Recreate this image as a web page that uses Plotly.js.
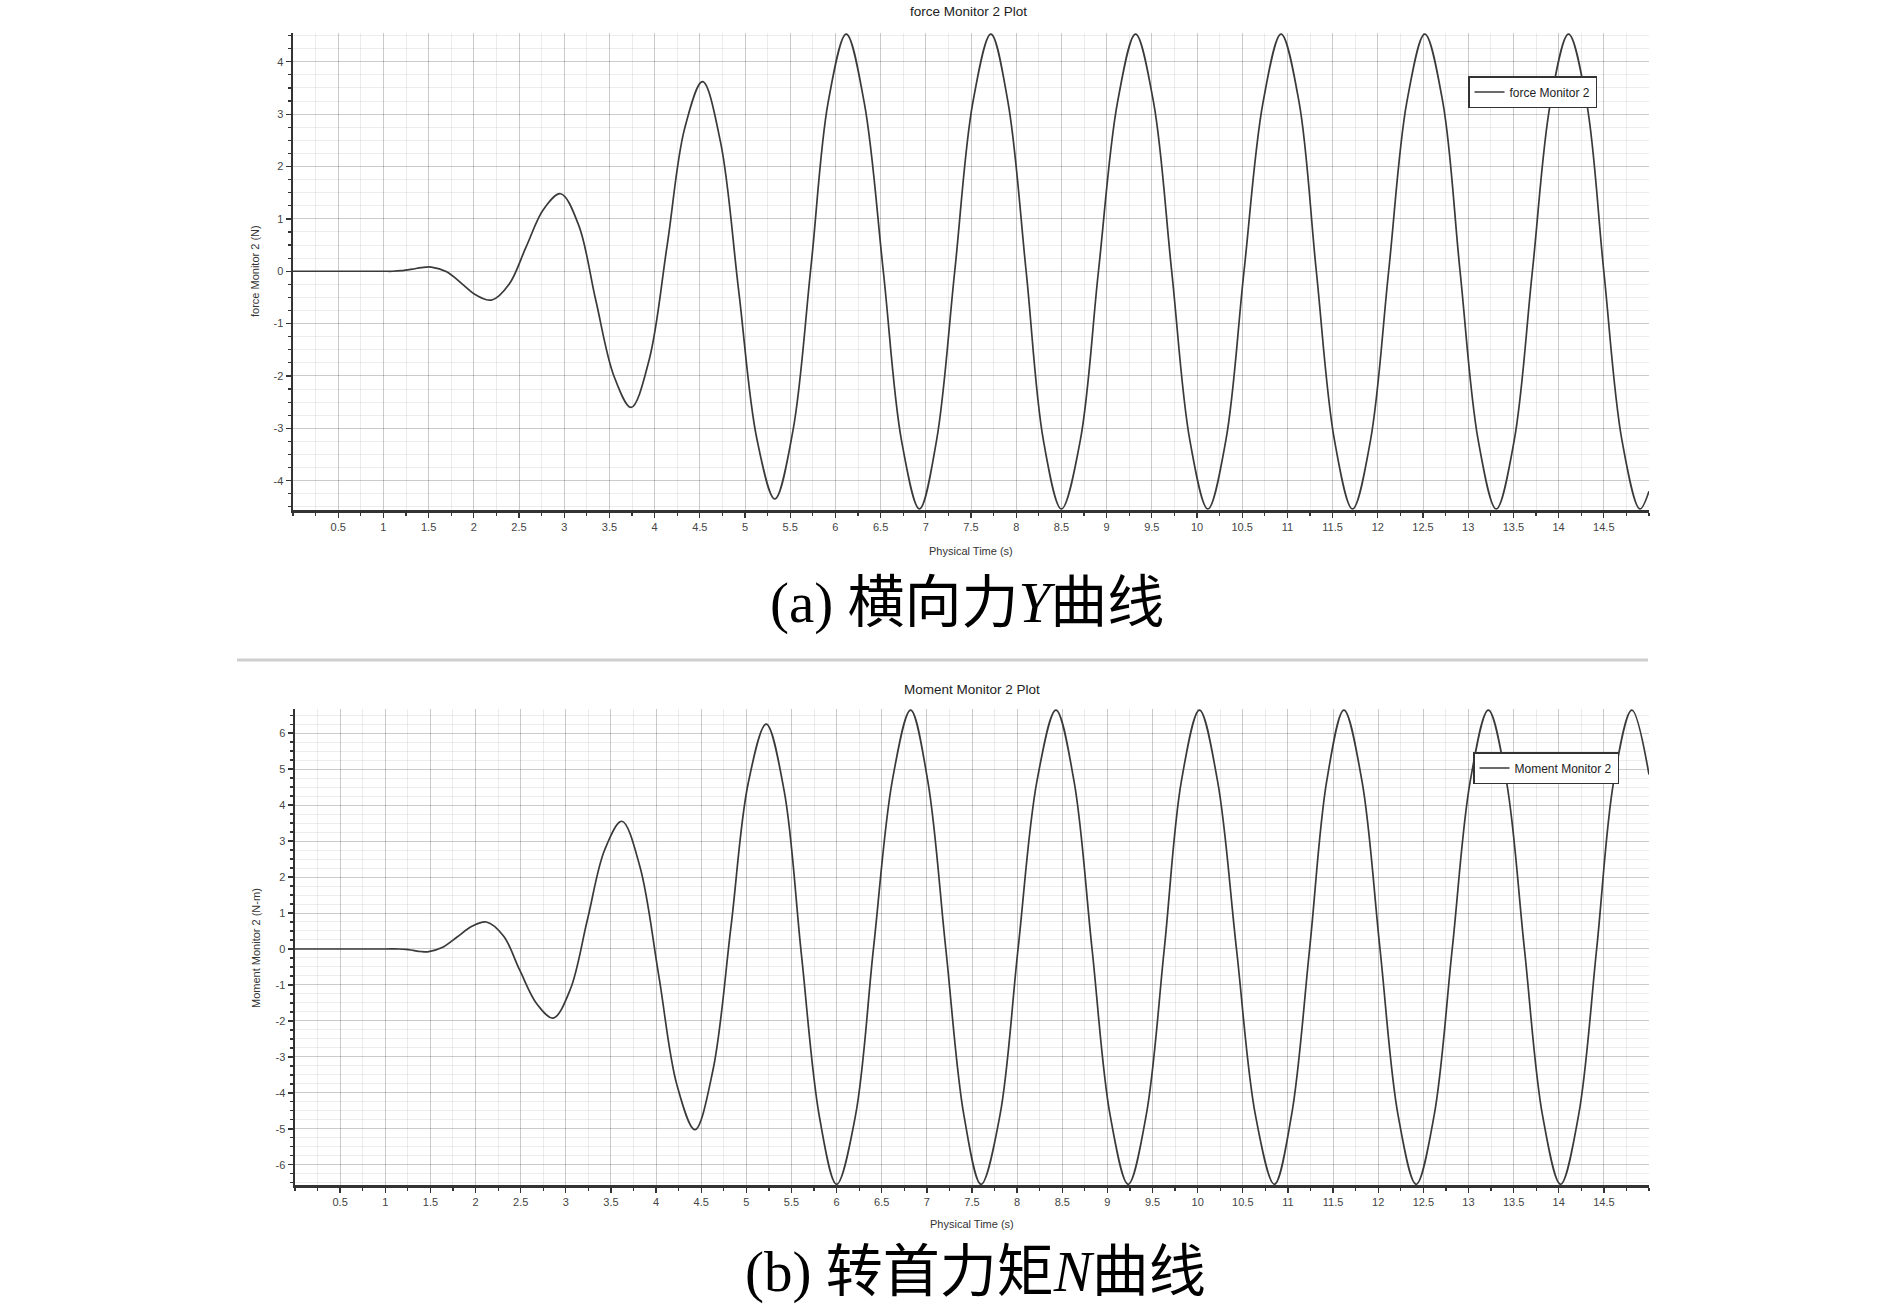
<!DOCTYPE html>
<html>
<head>
<meta charset="utf-8">
<script src="https://cdn.plot.ly/plotly-3.0.1.min.js"></script>
<style>
  html, body { margin: 0; padding: 0; background: #ffffff; }
  #chart { width: 1890px; height: 1304px; }
</style>
</head>
<body>
<div id="chart"></div>
<script>
// ---------------- data ----------------
const FORCE_NAME = 'force Monitor 2';
const MOMENT_NAME = 'Moment Monitor 2';

const FORCE_T = [0, 0.5, 1.0, 1.1, 1.2, 1.32, 1.42, 1.53, 1.7, 1.87, 2.03, 2.2, 2.39, 2.58, 2.77, 2.96, 3.16, 3.35, 3.55, 3.74, 3.94, 4.14, 4.33, 4.53, 4.73, 4.93, 5.13, 5.33, 5.53, 5.73, 5.92, 6.12, 6.32, 6.53, 6.73, 6.93, 7.12, 7.32, 7.52, 7.72, 7.91, 8.11, 8.3, 8.5, 8.71, 8.91, 9.12, 9.32, 9.52, 9.72, 9.92, 10.12, 10.32, 10.52, 10.73, 10.93, 11.13, 11.32, 11.52, 11.72, 11.92, 12.12, 12.32, 12.52, 12.72, 12.91, 13.11, 13.31, 13.51, 13.71, 13.91, 14.11, 14.31, 14.5, 14.7, 14.9, 15.0];
const FORCE_V = [0, 0, 0, 0, 0.01, 0.04, 0.07, 0.08, -0.01, -0.24, -0.46, -0.55, -0.25, 0.47, 1.18, 1.48, 0.88, -0.56, -2.0, -2.6, -1.69, 0.51, 2.71, 3.62, 2.46, -0.37, -3.19, -4.35, -3.05, 0.09, 3.23, 4.53, 3.21, 0.0, -3.22, -4.54, -3.22, 0.0, 3.22, 4.53, 3.22, 0.0, -3.22, -4.54, -3.22, 0.0, 3.22, 4.53, 3.22, 0.0, -3.22, -4.54, -3.22, 0.0, 3.22, 4.53, 3.22, 0.0, -3.22, -4.54, -3.22, 0.0, 3.22, 4.53, 3.22, 0.0, -3.22, -4.54, -3.22, 0.0, 3.22, 4.53, 3.22, 0.0, -3.22, -4.54, -4.2];

const MOMENT_T = [0, 0.5, 1.0, 1.15, 1.23, 1.31, 1.39, 1.47, 1.63, 1.8, 1.96, 2.12, 2.31, 2.49, 2.68, 2.86, 3.05, 3.24, 3.43, 3.62, 3.82, 4.03, 4.23, 4.43, 4.63, 4.83, 5.02, 5.22, 5.42, 5.61, 5.81, 6.0, 6.21, 6.41, 6.62, 6.82, 7.01, 7.21, 7.41, 7.6, 7.81, 8.01, 8.22, 8.43, 8.63, 8.83, 9.03, 9.23, 9.43, 9.63, 9.82, 10.02, 10.22, 10.43, 10.64, 10.85, 11.04, 11.24, 11.43, 11.62, 11.82, 12.02, 12.22, 12.42, 12.62, 12.82, 13.02, 13.22, 13.42, 13.62, 13.82, 14.02, 14.22, 14.42, 14.61, 14.81, 15.0];
const MOMENT_V = [0, 0, 0, 0, -0.01, -0.04, -0.07, -0.08, 0.04, 0.34, 0.63, 0.75, 0.36, -0.59, -1.53, -1.92, -1.12, 0.82, 2.75, 3.55, 2.3, -0.74, -3.77, -5.02, -3.37, 0.62, 4.6, 6.25, 4.38, -0.15, -4.67, -6.54, -4.62, 0.05, 4.72, 6.64, 4.67, 0.0, -4.62, -6.54, -4.62, 0.0, 4.67, 6.64, 4.67, 0.0, -4.62, -6.54, -4.62, 0.0, 4.67, 6.64, 4.67, 0.0, -4.62, -6.54, -4.62, 0.0, 4.67, 6.64, 4.67, 0.0, -4.62, -6.54, -4.62, 0.0, 4.67, 6.64, 4.67, 0.0, -4.62, -6.54, -4.62, 0.0, 4.67, 6.64, 4.85];

const X_TICKS = [0.5, 1, 1.5, 2, 2.5, 3, 3.5, 4, 4.5, 5, 5.5, 6, 6.5, 7, 7.5, 8, 8.5, 9, 9.5, 10, 10.5, 11, 11.5, 12, 12.5, 13, 13.5, 14, 14.5];
const Y_TICKS_A = [-4, -3, -2, -1, 0, 1, 2, 3, 4];
const Y_LABELS_A = ['-4', '-3', '-2', '-1', '0', '1', '2', '3', '4'];
const Y_TICKS_B = [-6, -5, -4, -3, -2, -1, 0, 1, 2, 3, 4, 5, 6];
const Y_LABELS_B = ['-6', '-5', '-4', '-3', '-2', '-1', '0', '1', '2', '3', '4', '5', '6'];

const TITLE_A = 'force Monitor 2 Plot';
const TITLE_B = 'Moment Monitor 2 Plot';
const YTITLE_A = 'force Monitor 2 (N)';
const YTITLE_B = 'Moment Monitor 2 (N-m)';
const XTITLE = 'Physical Time (s)';
const CAPTION_A = '(a) 横向力<i>Y</i>曲线';
const CAPTION_B = '(b) 转首力矩<i>N</i>曲线';

// ---------------- geometry / styles ----------------
const W = 1890, H = 1304;
const px = v => v / W;
const py = v => (H - v) / H;

const X_RANGE = [0, 15];
const Y_RANGE_A = [-4.56, 4.55];
const Y_RANGE_B = [-6.56, 6.67];

const DOM_XA = [px(293), px(1649)];
const DOM_YA = [py(510), py(33)];
const DOM_XB = [px(295), px(1649)];
const DOM_YB = [py(1185), py(709)];

const SANS = 'Liberation Sans, Arial, sans-serif';
const TICKFONT = { family: SANS, size: 11, color: '#444' };
const LINE = { color: '#3a3a3a', width: 1.7, shape: 'spline', smoothing: 1 };

function mainX(domain, anchor) {
  return {
    domain: domain, anchor: anchor, range: X_RANGE,
    tickmode: 'array', tickvals: X_TICKS,
    ticks: 'outside', ticklen: 5, tickwidth: 1.3, tickcolor: '#333',
    showgrid: true, gridcolor: 'rgba(0,0,0,0.14)', gridwidth: 1,
    minor: { tickmode: 'linear', tick0: 0, dtick: 0.25, ticks: 'outside', ticklen: 3, tickwidth: 1.2,
             tickcolor: '#333', showgrid: true, gridcolor: 'rgba(0,0,0,0.075)', gridwidth: 1 },
    showline: true, linecolor: '#333', linewidth: 2.5,
    zeroline: false, tickfont: TICKFONT, fixedrange: true
  };
}
function overX(over, anchor) {
  return {
    overlaying: over, anchor: anchor, range: X_RANGE,
    tickmode: 'linear', tick0: 0.125, dtick: 0.25,
    ticks: 'outside', ticklen: 2.5, tickwidth: 1, tickcolor: '#444',
    showticklabels: false, showline: false, zeroline: false,
    showgrid: true, gridcolor: 'rgba(0,0,0,0.04)', gridwidth: 1,
    fixedrange: true
  };
}
function mainY(domain, anchor, range, vals, labels) {
  return {
    domain: domain, anchor: anchor, range: range,
    tickmode: 'array', tickvals: vals, ticktext: labels,
    ticks: 'outside', ticklen: 5, tickwidth: 1.3, tickcolor: '#333',
    showgrid: true, gridcolor: 'rgba(0,0,0,0.14)', gridwidth: 1,
    minor: { tickmode: 'linear', tick0: 0, dtick: 0.25, ticks: 'outside', ticklen: 3, tickwidth: 1.2,
             tickcolor: '#333', showgrid: true, gridcolor: 'rgba(0,0,0,0.07)', gridwidth: 1 },
    showline: true, linecolor: '#333', linewidth: 2.5,
    zeroline: false, tickfont: TICKFONT, fixedrange: true
  };
}
function overY(over, anchor, range) {
  return {
    overlaying: over, anchor: anchor, range: range,
    tickmode: 'linear', tick0: 0.125, dtick: 0.25,
    ticks: 'outside', ticklen: 2.5, tickwidth: 1, tickcolor: '#444',
    showticklabels: false, showline: false, zeroline: false,
    showgrid: false,
    fixedrange: true
  };
}

const traces = [
  { type: 'scatter', mode: 'lines', x: FORCE_T, y: FORCE_V, name: FORCE_NAME,
    xaxis: 'x', yaxis: 'y', line: LINE, legend: 'legend', hoverinfo: 'skip' },
  { type: 'scatter', mode: 'lines', x: MOMENT_T, y: MOMENT_V, name: MOMENT_NAME,
    xaxis: 'x2', yaxis: 'y2', line: LINE, legend: 'legend2', hoverinfo: 'skip' }
];

const legendStyle = (x, y) => ({
  x: x, y: y, xanchor: 'left', yanchor: 'top',
  bgcolor: '#ffffff', bordercolor: '#333', borderwidth: 1.5,
  font: { family: SANS, size: 12, color: '#222' },
  tracegroupgap: 0
});

const layout = {
  width: W, height: H,
  margin: { l: 0, r: 0, t: 0, b: 0 },
  paper_bgcolor: '#ffffff', plot_bgcolor: '#ffffff',
  showlegend: true,
  legend: legendStyle(px(1468), py(76)),
  legend2: legendStyle(px(1473), py(752)),
  xaxis: mainX(DOM_XA, 'y'),
  yaxis: mainY(DOM_YA, 'x', Y_RANGE_A, Y_TICKS_A, Y_LABELS_A),
  xaxis3: overX('x', 'y'),
  yaxis3: overY('y', 'x', Y_RANGE_A),
  xaxis2: mainX(DOM_XB, 'y2'),
  yaxis2: mainY(DOM_YB, 'x2', Y_RANGE_B, Y_TICKS_B, Y_LABELS_B),
  xaxis4: overX('x2', 'y2'),
  yaxis4: overY('y2', 'x2', Y_RANGE_B),
  shapes: [
    { type: 'line', xref: 'paper', yref: 'paper', x0: px(237), x1: px(1648), y0: py(660), y1: py(660),
      line: { color: '#cfcfcf', width: 3 } }
  ],
  annotations: [
    { text: TITLE_A, xref: 'paper', yref: 'paper', x: px(969), y: py(12), xanchor: 'center', yanchor: 'middle',
      showarrow: false, font: { family: SANS, size: 13.5, color: '#222' } },
    { text: TITLE_B, xref: 'paper', yref: 'paper', x: px(972), y: py(690), xanchor: 'center', yanchor: 'middle',
      showarrow: false, font: { family: SANS, size: 13.5, color: '#222' } },
    { text: XTITLE, xref: 'paper', yref: 'paper', x: px(971), y: py(551), xanchor: 'center', yanchor: 'middle',
      showarrow: false, font: { family: SANS, size: 11, color: '#333' } },
    { text: XTITLE, xref: 'paper', yref: 'paper', x: px(972), y: py(1224), xanchor: 'center', yanchor: 'middle',
      showarrow: false, font: { family: SANS, size: 11, color: '#333' } },
    { text: YTITLE_A, xref: 'paper', yref: 'paper', x: px(255), y: py(271), xanchor: 'center', yanchor: 'middle',
      textangle: -90, showarrow: false, font: { family: SANS, size: 11, color: '#333' } },
    { text: YTITLE_B, xref: 'paper', yref: 'paper', x: px(256), y: py(948), xanchor: 'center', yanchor: 'middle',
      textangle: -90, showarrow: false, font: { family: SANS, size: 11, color: '#333' } },
    { text: CAPTION_A, xref: 'paper', yref: 'paper', x: px(967), y: py(603), xanchor: 'center', yanchor: 'middle',
      showarrow: false, font: { family: "'Liberation Serif', 'Times New Roman', 'Noto Sans CJK SC', serif", size: 57, color: '#000' } },
    { text: CAPTION_B, xref: 'paper', yref: 'paper', x: px(975), y: py(1272), xanchor: 'center', yanchor: 'middle',
      showarrow: false, font: { family: "'Liberation Serif', 'Times New Roman', 'Noto Sans CJK SC', serif", size: 57, color: '#000' } }
  ]
};

Plotly.newPlot('chart', traces, layout, { staticPlot: true, displayModeBar: false });
</script>
</body>
</html>
